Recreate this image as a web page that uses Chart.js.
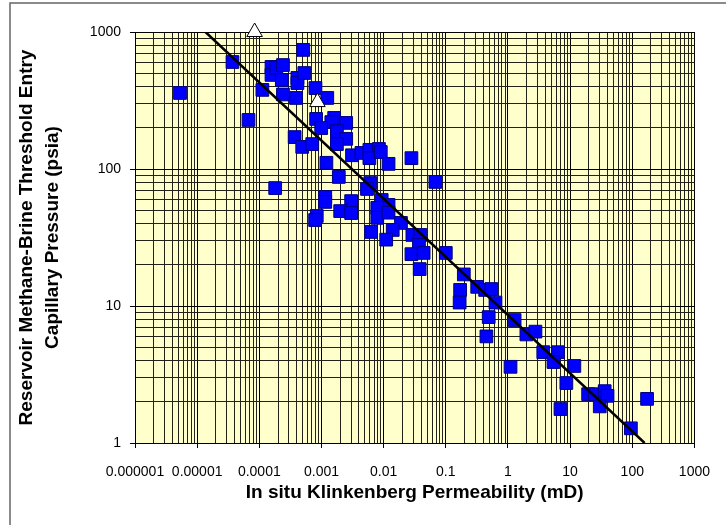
<!DOCTYPE html>
<html>
<head>
<meta charset="utf-8">
<script src="https://cdn.jsdelivr.net/npm/chart.js@4"></script>
<style>
  body { margin: 0; background: #fff; }
  canvas { display: block; }
</style>
</head>
<body>
<canvas id="myChart" width="726" height="525"></canvas>
<script>

// measured samples: in situ Klinkenberg permeability (mD) vs threshold entry pressure (psia)
const permeability = [
  5.3e-6, 3.7e-5, 1.12e-4, 6.7e-5, 1.57e-4, 1.57e-4, 1.88e-4, 2.4e-4, 2.3e-4, 2.4e-4,
  4.1e-4, 4.1e-4, 5.3e-4, 5.1e-4, 3.9e-4, 8.0e-4, 1.24e-3, 8.2e-4, 1.6e-3, 1.44e-3,
  2.5e-3, 9.9e-4, 1.77e-3, 2.5e-3, 3.7e-4, 4.9e-4, 7.1e-4, 1.77e-3, 1.8e-4, 1.2e-3,
  1.9e-3, 1.15e-3, 1.15e-3, 8.4e-4, 7.9e-4, 3.0e-3, 2.0e-3, 3.0e-3, 3.1e-3, 4.4e-3,
  5.9e-3, 8.4e-3, 5.9e-3, 9.0e-3, 0.012, 0.028, 6.1e-3, 5.4e-3, 0.068, 9.3e-3,
  0.012, 7.9e-3, 7.9e-3, 0.012, 0.019, 0.014, 6.3e-3, 0.011, 0.029, 0.039,
  0.037, 0.028, 0.044, 0.1, 0.038, 0.195, 0.17, 0.32, 0.43, 0.54,
  0.167, 0.63, 0.49, 0.45, 1.28, 1.98, 2.77, 1.1, 3.7, 6.4,
  5.4, 11.7, 8.7, 7.0, 19.5, 25, 36, 40, 30, 95,
  173
];
const pressure = [
  359, 604, 378, 228, 556, 486, 550, 574, 447, 350,
  462, 424, 502, 740, 330, 390, 330, 232, 236, 220,
  217, 199, 189, 166, 171, 145, 152, 152, 72.6, 111,
  87.5, 62.5, 57.5, 45.4, 42.4, 58.3, 49.3, 47.7, 126, 131,
  138, 140, 120, 133, 109, 120, 79, 71.5, 80.5, 59.4,
  54.7, 52, 44, 48, 40.4, 35.9, 34.7, 30.5, 33, 33,
  27.9, 23.9, 24.4, 24.4, 18.6, 17.0, 13.1, 13.8, 13.1, 13.3,
  10.6, 10.6, 8.3, 6.0, 7.9, 6.2, 6.5, 3.6, 4.6, 4.6,
  3.9, 3.65, 2.74, 1.77, 2.27, 2.27, 2.39, 2.21, 1.85, 1.28,
  2.1
];

// the two open triangles
const triPermeability = [8.4e-5, 8.6e-4];
const triPressure = [1000, 308];

// power-law trend line, end points where it leaves the plot
const trendPermeability = [1.36e-5, 158];
const trendPressure = [1000, 1];

const xTickLabels = ['0.000001', '0.00001', '0.0001', '0.001', '0.01', '0.1', '1', '10', '100', '1000'];
const yTickLabels = ['1', '10', '100', '1000'];

const toPoints = (xs, ys) => xs.map((x, i) => ({ x: x, y: ys[i] }));

// decade ticks plus 2..9 minor ticks in between
function logTicks(labels) {
  const ticks = [];
  labels.forEach((lbl, i) => {
    const v = parseFloat(lbl);
    ticks.push({ value: v });
    if (i < labels.length - 1) {
      for (let m = 2; m <= 9; m++) ticks.push({ value: v * m });
    }
  });
  return ticks;
}

function isDecade(v) {
  const l = Math.log10(v);
  return Math.abs(l - Math.round(l)) < 1e-6;
}

function labelFor(labels, v) {
  if (!isDecade(v)) return '';
  const first = Math.round(Math.log10(parseFloat(labels[0])));
  return labels[Math.round(Math.log10(v)) - first] || '';
}

const plotBackground = {
  id: 'plotBackground',
  beforeDraw(chart) {
    const { ctx, chartArea: a } = chart;
    ctx.save();
    ctx.fillStyle = '#FFFFCC';
    ctx.fillRect(a.left, a.top, a.right - a.left, a.bottom - a.top);
    ctx.strokeStyle = '#666666';
    ctx.lineWidth = 1.5;
    ctx.strokeRect(10, 3, 800, 600);
    ctx.restore();
  }
};

Chart.defaults.font.family = '"Liberation Sans", Arial, sans-serif';
Chart.defaults.color = '#000';

const gridColor = (c) => (c.tick && isDecade(c.tick.value)) ? '#000' : '#222218';
const tickColor = (c) => (c.tick && isDecade(c.tick.value)) ? '#000' : 'rgba(0,0,0,0)';

const ctx = document.getElementById('myChart');

const config = {
  type: 'scatter',
  data: {
    datasets: [
      {
        label: 'open',
        data: toPoints(triPermeability, triPressure),
        pointStyle: 'triangle',
        pointRadius: 9,
        backgroundColor: '#FFFFFF',
        borderColor: '#000000',
        borderWidth: 1,
        clip: false
      },
      {
        label: 'trend',
        type: 'line',
        data: toPoints(trendPermeability, trendPressure),
        borderColor: '#000000',
        borderWidth: 2.5,
        pointRadius: 0,
        fill: false
      },
      {
        label: 'samples',
        data: toPoints(permeability, pressure),
        pointStyle: 'rect',
        pointRadius: 9,
        backgroundColor: '#0000FF',
        borderColor: '#000080',
        borderWidth: 1
      }
    ]
  },
  options: {
    responsive: false,
    animation: false,
    layout: { padding: { left: 0, right: 29, top: 32, bottom: 0 } },
    plugins: {
      legend: { display: false },
      tooltip: { enabled: false }
    },
    scales: {
      x: {
        type: 'logarithmic',
        position: 'bottom',
        min: 1e-6,
        max: 1000,
        afterBuildTicks: (s) => { s.ticks = logTicks(xTickLabels); },
        afterFit: (s) => { s.height = 82; },
        ticks: {
          autoSkip: false,
          maxRotation: 0,
          minRotation: 0,
          padding: 16,
          font: { size: 14 },
          callback: (v) => labelFor(xTickLabels, v)
        },
        grid: { color: gridColor, tickColor: tickColor, tickLength: 5, lineWidth: 1 },
        border: { color: '#000', width: 1 },
        title: {
          display: true,
          text: 'In situ Klinkenberg Permeability (mD)',
          font: { size: 19, weight: 'bold' },
          padding: { top: 0, bottom: 20.6 }
        }
      },
      y: {
        type: 'logarithmic',
        min: 1,
        max: 1000,
        afterBuildTicks: (s) => { s.ticks = logTicks(yTickLabels); },
        afterFit: (s) => { s.width = 135; },
        ticks: {
          autoSkip: false,
          padding: 9,
          font: { size: 14 },
          callback: (v) => labelFor(yTickLabels, v)
        },
        grid: { color: gridColor, tickColor: tickColor, tickLength: 5, lineWidth: 1 },
        border: { color: '#000', width: 1 },
        title: {
          display: true,
          text: ['Reservoir Methane-Brine Threshold Entry', 'Capillary Pressure (psia)'],
          font: { size: 19, weight: 'bold', lineHeight: 26 / 19 },
          padding: { top: 13.5, bottom: 0 }
        }
      }
    }
  },
  plugins: [plotBackground]
};

new Chart(ctx, config);
</script>
</body>
</html>
